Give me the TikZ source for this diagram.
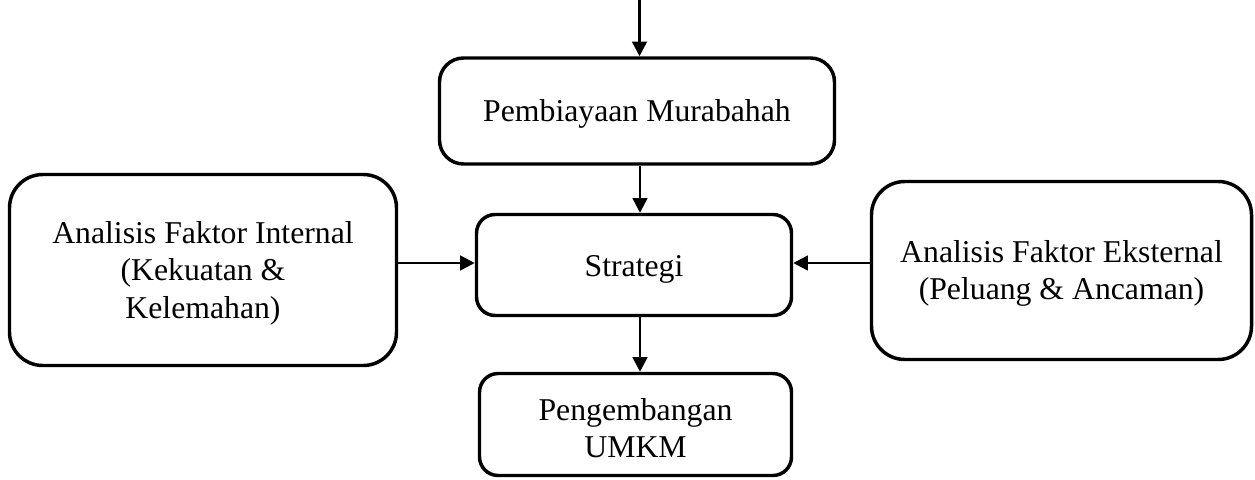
\documentclass[tikz,border=0pt]{standalone}
\usepackage{fontspec}
\setmainfont{Liberation Serif}
\usetikzlibrary{arrows.meta}
\newcommand\boxtext[2]{\raisebox{-#1}[\height][\depth]{\begin{tabular}{@{}c@{}}#2\end{tabular}}}
\begin{document}
\begin{tikzpicture}[x=0.75pt,y=-0.75pt,
  box/.style={draw=black,line width=2.6pt,fill=white,align=center,
    font=\fontsize{23.8pt}{28pt}\selectfont,inner sep=0pt},
  arr/.style={line width=1.9pt,-{Triangle[length=11pt,width=11pt]}}]
\useasboundingbox (0,0) rectangle (1255,479);
\node[box,rounded corners=18pt,minimum width=395*0.75pt,minimum height=106*0.75pt] (pm) at (637,111) {\boxtext{2.5pt}{Pembiayaan Murabahah}};
\node[box,rounded corners=14pt,minimum width=315*0.75pt,minimum height=101*0.75pt] (st) at (634,265) {\boxtext{2.8pt}{Strategi}};
\node[box,rounded corners=25pt,minimum width=387*0.75pt,minimum height=191*0.75pt] (fi) at (203,270) {\boxtext{2.5pt}{Analisis Faktor Internal\\(Kekuatan \&\\Kelemahan)}};
\node[box,rounded corners=25pt,minimum width=380*0.75pt,minimum height=178*0.75pt] (fe) at (1061.5,270.5) {\boxtext{2.5pt}{Analisis Faktor Eksternal\\(Peluang \& Ancaman)}};
\node[box,rounded corners=14pt,minimum width=312*0.75pt,minimum height=102*0.75pt] (um) at (635.5,424.5) {\boxtext{5.5pt}{Pengembangan\\UMKM}};
\coordinate (top) at (639.5,0);
\coordinate (ax) at (640,0);
\coordinate (ay) at (0,263);
\draw[arr] (top) -- (pm.north -| top);
\draw[arr] (pm.south -| ax) -- (st.north -| ax);
\draw[arr] (st.south -| ax) -- (um.north -| ax);
\draw[arr] (fi.east |- ay) -- (st.west |- ay);
\draw[arr] (fe.west |- ay) -- (st.east |- ay);
\end{tikzpicture}
\end{document}
